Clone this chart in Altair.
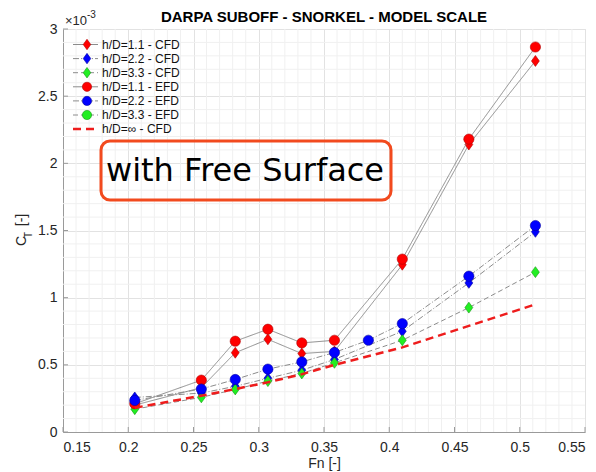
import altair as alt
import pandas as pd
import numpy as np

# ---------------- data (CT values in units of 1e-3) ----------------
Fn = [0.205, 0.256, 0.282, 0.307, 0.333, 0.358, 0.384, 0.41, 0.461, 0.512]
ct_cfd_11 = [0.20, 0.33, 0.59, 0.69, 0.584, 0.60, None, 1.245, 2.14, 2.762]
ct_cfd_22 = [0.257, 0.29, 0.34, 0.40, 0.46, 0.54, None, 0.75, 1.11, 1.49]
ct_cfd_33 = [0.17, 0.258, 0.317, 0.379, 0.436, 0.515, None, 0.683, 0.926, 1.19]
ct_efd_11 = [0.21, 0.386, 0.676, 0.765, 0.663, 0.683, None, 1.287, 2.18, 2.866]
ct_efd_22 = [0.235, 0.32, 0.391, 0.468, 0.522, 0.592, 0.683, 0.807, 1.16, 1.537]
ct_efd_33 = [None] * 10
ct_cfd_inf = [0.18, 0.27, 0.32, 0.37, 0.43, 0.50, None, 0.63, 0.79, 0.95]

labels = ["h/D=1.1 - CFD", "h/D=2.2 - CFD", "h/D=3.3 - CFD",
          "h/D=1.1 - EFD", "h/D=2.2 - EFD", "h/D=3.3 - EFD", "h/D=\u221e - CFD"]
x_ticks = [0.15, 0.2, 0.25, 0.3, 0.35, 0.4, 0.45, 0.5, 0.55]
y_ticks = [0, 0.5, 1, 1.5, 2, 2.5, 3]
x_minor = [round(v, 2) for v in np.arange(0.15, 0.551, 0.01) if round(v, 2) not in x_ticks]
y_minor = [round(v, 1) for v in np.arange(0, 3.01, 0.1) if round(v, 1) not in y_ticks]

W, H = 522, 403
DIAMOND = "M0,-1L0.72,0L0,1L-0.72,0Z"
GRAY = "#8c8c8c"
FONT = "Liberation Sans"

series = [
    (labels[0], ct_cfd_11, DIAMOND, "#ff0000", "#b00000", GRAY, [1, 0], 1.0),
    (labels[1], ct_cfd_22, DIAMOND, "#0000ff", "#0000a0", GRAY, [6, 2, 1, 2], 1.0),
    (labels[2], ct_cfd_33, DIAMOND, "#22ee22", "#119911", GRAY, [5, 3], 1.0),
    (labels[3], ct_efd_11, "circle", "#ff0000", "#b00000", GRAY, [1, 0], 1.0),
    (labels[4], ct_efd_22, "circle", "#0000ff", "#0000a0", GRAY, [6, 2, 1, 2], 1.0),
    (labels[5], ct_efd_33, "circle", "#22ee22", "#119911", GRAY, [5, 3], 1.0),
    (labels[6], ct_cfd_inf, None, None, None, "#ee1c1c", [8, 5], 2.5),
]

xs = alt.Scale(domain=[0.15, 0.55], nice=False, zero=False)
ys = alt.Scale(domain=[0, 3], nice=False, zero=True)

x_axis = alt.Axis(values=x_ticks, format=".2~f", grid=True, gridColor="#e2e2e2",
                  ticks=False, domainColor="#9a9a9a", labelFont=FONT, labelFontSize=14,
                  labelColor="#262626", labelPadding=8, title="Fn [-]", titleFont=FONT,
                  titleFontSize=14, titleFontWeight="normal", titleColor="#262626",
                  titlePadding=2)
y_axis = alt.Axis(values=y_ticks, format=".1~f", grid=True, gridColor="#e2e2e2",
                  ticks=False, domainColor="#9a9a9a", labelFont=FONT, labelFontSize=14,
                  labelColor="#262626", labelPadding=6, title=None)

layers = []

# minor grid
minor_x = alt.Chart(pd.DataFrame({"v": x_minor})).mark_rule(color="#f0f0f0", strokeWidth=1).encode(
    x=alt.X("v:Q", scale=xs, axis=x_axis))
minor_y = alt.Chart(pd.DataFrame({"v": y_minor})).mark_rule(color="#f0f0f0", strokeWidth=1).encode(
    y=alt.Y("v:Q", scale=ys, axis=y_axis))
layers += [minor_x, minor_y]

# inward ticks
tick_x = alt.Chart(pd.DataFrame({"v": x_ticks})).mark_rule(color="#9a9a9a").encode(
    x=alt.X("v:Q", scale=xs), y=alt.value(H), y2=alt.value(H - 5))
tick_y = alt.Chart(pd.DataFrame({"v": y_ticks})).mark_rule(color="#9a9a9a").encode(
    y=alt.Y("v:Q", scale=ys), x=alt.value(0), x2=alt.value(5))
layers += [tick_x, tick_y]

for name, vals, shape, fill, stroke, lcol, dash, lw in series:
    df = pd.DataFrame({"Fn": Fn, "CT": vals}).dropna()
    if df.empty:
        continue
    base = alt.Chart(df)
    layers.append(base.mark_line(color=lcol, strokeWidth=lw, strokeDash=dash).encode(
        x=alt.X("Fn:Q", scale=xs), y=alt.Y("CT:Q", scale=ys)))
    if shape is not None:
        size = 120 if shape == DIAMOND else 105
        layers.append(base.mark_point(shape=shape, filled=True, fill=fill, stroke=stroke,
                                      strokeWidth=0.6, size=size, opacity=1).encode(
            x=alt.X("Fn:Q", scale=xs), y=alt.Y("CT:Q", scale=ys)))

# legend (manual)
one = alt.Data(values=[{"a": 1}])
for i, (name, vals, shape, fill, stroke, lcol, dash, lw) in enumerate(series):
    yy = 15.5 + 14.1 * i
    layers.append(alt.Chart(one).mark_rule(color=lcol, strokeWidth=lw, strokeDash=dash).encode(
        x=alt.value(10), x2=alt.value(35), y=alt.value(yy)))
    if shape is not None:
        size = 110 if shape == DIAMOND else 85
        layers.append(alt.Chart(one).mark_point(shape=shape, filled=True, fill=fill, stroke=stroke,
                                                strokeWidth=0.6, size=size, opacity=1).encode(
            x=alt.value(24), y=alt.value(yy)))
    layers.append(alt.Chart(one).mark_text(text=name, font=FONT, fontSize=12, align="left",
                                           baseline="middle", color="#111111").encode(
        x=alt.value(39), y=alt.value(yy)))

# annotation box
layers.append(alt.Chart(one).mark_rect(fillOpacity=0, stroke="#f24a1e", strokeWidth=3,
                                       cornerRadius=9).encode(
    x=alt.value(38), x2=alt.value(328), y=alt.value(112), y2=alt.value(171)))
layers.append(alt.Chart(one).mark_text(text="with Free Surface", font="DejaVu Sans", fontSize=32,
                                       align="center", baseline="middle", color="#000000").encode(
    x=alt.value(182), y=alt.value(142)))

# title and exponent
layers.append(alt.Chart(one).mark_text(text="DARPA SUBOFF - SNORKEL - MODEL SCALE", font=FONT,
                                       fontSize=15, fontWeight="bold", align="center",
                                       baseline="middle", color="#000000").encode(
    x=alt.value(261), y=alt.value(-12)))
layers.append(alt.Chart(one).mark_text(text="\u00d710", font=FONT, fontSize=13, align="left",
                                       baseline="middle", color="#262626").encode(
    x=alt.value(2), y=alt.value(-8.5)))
layers.append(alt.Chart(one).mark_text(text="-3", font=FONT, fontSize=10, align="left",
                                       baseline="middle", color="#262626").encode(
    x=alt.value(24), y=alt.value(-14.5)))

# y-axis title C_T [-]
layers.append(alt.Chart(one).mark_text(text="C", font=FONT, fontSize=14, angle=270, align="center",
                                       baseline="middle", color="#262626").encode(
    x=alt.value(-41), y=alt.value(212)))
layers.append(alt.Chart(one).mark_text(text="T", font=FONT, fontSize=10, angle=270, align="center",
                                       baseline="middle", color="#262626").encode(
    x=alt.value(-34.5), y=alt.value(206)))
layers.append(alt.Chart(one).mark_text(text="[-]", font=FONT, fontSize=14, angle=270, align="center",
                                       baseline="middle", color="#262626").encode(
    x=alt.value(-41), y=alt.value(191)))

chart = alt.layer(*layers).properties(
    width=W, height=H,
    autosize=alt.AutoSizeParams(type="none"),
    padding={"left": 63, "top": 29, "right": 11, "bottom": 40},
).configure_view(stroke=None).configure(background="white")

chart.save("out.html", embed_options={"renderer": "svg", "actions": False})
